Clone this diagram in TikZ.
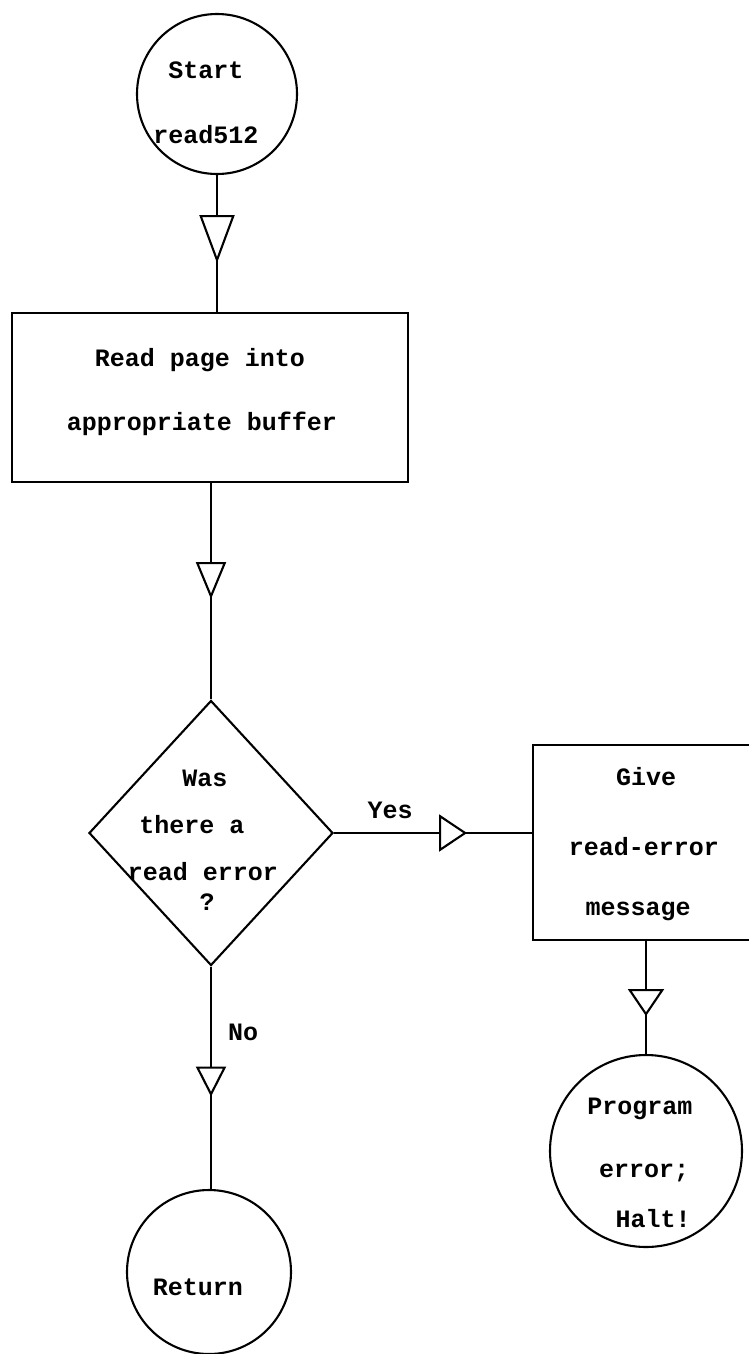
\documentclass[tikz,border=0pt]{standalone}
\usepackage{fontspec}
\setmonofont{Liberation Mono}
\usetikzlibrary{shapes.geometric,arrows.meta,decorations.markings}

\begin{document}
\begin{tikzpicture}[x=1pt,y=-1pt,
  line width=2.1pt,
  lbl/.style={font=\ttfamily\bfseries\fontsize{25}{25}\selectfont, anchor=base, inner sep=0pt},
  term/.style={circle, draw, inner sep=0pt, minimum size=#1},
  flow/.style n args={3}{postaction={decorate},
    decoration={markings, mark=at position #1 with
      {\arrow{Triangle[length=#2pt, width=#3pt, fill=white]}}}}
]
% page
\fill[white] (0,0) rectangle (748,1354);
\useasboundingbox (0,0) rectangle (748,1354);

% shapes
\node[term=160pt] (start) at (217,94) {};
\node[draw, rectangle, inner sep=0pt, minimum width=396pt, minimum height=169pt] (box1) at (210,397.5) {};
\node[draw, diamond, inner sep=0pt, minimum width=244pt, minimum height=265pt] (dia) at (211,833) {};
\node[draw, rectangle, inner sep=0pt, minimum width=218pt, minimum height=195pt] (box2) at (642,842.5) {};
\node[term=192pt] (halt) at (646,1151) {};
\node[term=164pt] (ret) at (209,1272) {};

% texts
\node[lbl] (s1) at (206,78) {Start};
\node[lbl] (s2) at (206,143) {read512};
\node[lbl] (b1) at (200,366) {Read page into};
\node[lbl] (b2) at (202,430) {appropriate buffer};
\node[lbl] (d1) at (205,786) {Was};
\node[lbl] (d2) at (192,833) {there a};
\node[lbl] (d3) at (203,880) {read error};
\node[lbl] (d4) at (207,910) {?};
\node[lbl] (e1) at (646,785) {Give};
\node[lbl] (e2) at (644,855) {read-error};
\node[lbl] (e3) at (638,915) {message};
\node[lbl] (h1) at (640,1114) {Program};
\node[lbl] (h2) at (644,1177) {error;};
\node[lbl] (h3) at (653,1227) {Halt!};
\node[lbl] (r1) at (198,1295) {Return};
\node[lbl] (yes) at (390,818) {Yes};
\node[lbl] (no) at (243,1040) {No};

% connectors
\draw[flow={88pt}{48}{35}] (start.south) -- (start.south |- box1.north);
\draw[flow={116pt}{37}{30}] (box1.south -| dia.north) -- (dia.north);
\draw[flow={133pt}{28}{37}] (dia.east) -- (dia.east -| box2.west);
\draw[flow={75pt}{27}{36}] (box2.south -| halt.north) -- (halt.north);
\draw[flow={130pt}{30}{30}] (dia.south) -- (dia.south |- ret.north);
\end{tikzpicture}
\end{document}
